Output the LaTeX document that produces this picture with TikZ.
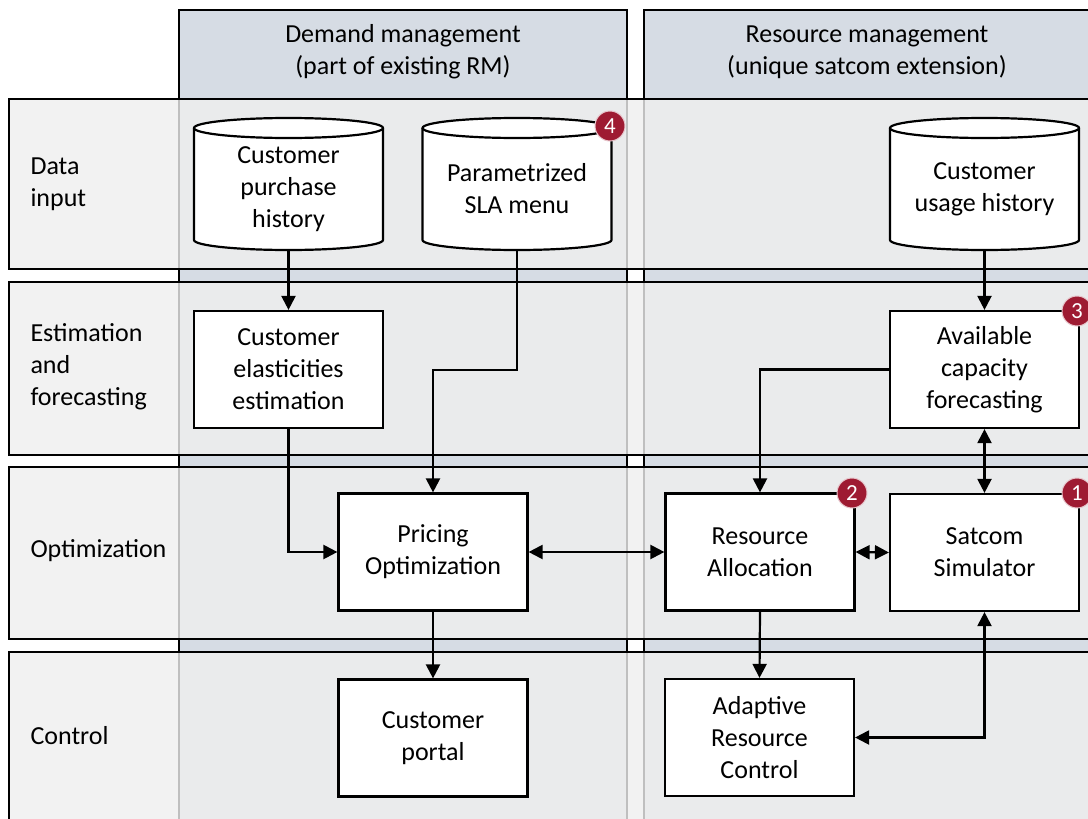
\documentclass[tikz,border=0pt]{standalone}
\usepackage{fontspec}
\setmainfont{Carlito}
\usetikzlibrary{arrows.meta}
\definecolor{hdrfill}{RGB}{214,220,228}
\definecolor{rowfill}{RGB}{239,239,239}
\definecolor{badgered}{RGB}{158,27,50}

% database cylinder: #1 node name, #2 centre x, #3 text
\newcommand\dbstore[3]{%
  \path[dbline] (#2-94.5,128) -- (#2-94.5,240)
    arc[start angle=180,end angle=0,x radius=94.5,y radius=10] -- (#2+94.5,128);
  \path[dbline] (#2,128) ellipse[x radius=94.5,y radius=10];
  \node[dbbody] (#1) at (#2,189) {#3};
}

\begin{document}
\begin{tikzpicture}[x=1pt,y=-1pt,
  every node/.style={font=\fontsize{26}{32}\selectfont},
  colbox/.style={draw=black,line width=2.2pt,fill=hdrfill},
  rowbox/.style={draw=black,line width=2.2pt,fill=rowfill,fill opacity=0.8},
  procbox/.style={draw=black,line width=2.2pt,fill=white,minimum width=189pt,
    minimum height=117pt,align=center,inner sep=2pt},
  dbbody/.style={minimum width=189pt,minimum height=122pt,align=center,inner sep=0pt},
  dbline/.style={draw=black,line width=2.2pt,fill=white},
  conn/.style={line width=2.2pt,-{Triangle[length=14pt,width=14pt]}},
  biconn/.style={line width=2.2pt,{Triangle[length=14pt,width=14pt]}-{Triangle[length=14pt,width=14pt]}},
  badge/.style={circle,fill=badgered,draw=badgered!25!white,line width=1pt,text=white,
    minimum size=30pt,inner sep=0pt,font=\fontsize{23}{23}\selectfont},
  lanelabel/.style={anchor=west,align=left},
  header/.style={align=center}]

\useasboundingbox (0,0) rectangle (1088,819);
\clip (0,0) rectangle (1088,819);

% column lanes with their headers
\path[colbox] (179,10) rectangle (627,830);
\path[colbox] (644,10) rectangle (1092,830);
\node[header] (hdemand) at (403,52) {Demand management\\(part of existing RM)};
\node[header] (hresource) at (867,52) {Resource management\\(unique satcom extension)};

% row lanes
\path[rowbox] (9,99) rectangle (1095,269);
\path[rowbox] (9,282) rectangle (1095,455);
\path[rowbox] (9,467) rectangle (1095,639);
\path[rowbox] (9,652) rectangle (1095,822);

\node[lanelabel] (ldata) at (27,184) {Data\\input};
\node[lanelabel] (lest) at (27,367) {Estimation\\and\\forecasting};
\node[lanelabel] (lopt) at (27,551) {Optimization};
\node[lanelabel] (lctl) at (27,736) {Control};

% data stores
\dbstore{cph}{288.5}{Customer\\purchase\\history}
\dbstore{sla}{517}{Parametrized\\SLA menu}
\dbstore{cuh}{984.5}{Customer\\usage history}

% processing blocks
\node[procbox] (cee) at (288.5,369.5) {Customer\\elasticities\\estimation};
\node[procbox] (acf) at (984.5,369.5) {Available\\capacity\\forecasting};
\node[procbox] (po) at (433,552) {Pricing\\Optimization};
\node[procbox] (ra) at (760,552) {Resource\\Allocation};
\node[procbox] (ss) at (984.5,552.5) {Satcom\\Simulator};
\node[procbox] (cp) at (433,738) {Customer\\portal};
\node[procbox] (arc) at (759.5,737.5) {Adaptive\\Resource\\Control};

% connectors
\draw[conn] (cph.south) -- (cee.north);
\draw[conn] (sla.south) -- ++(0,120) -| (po.north);
\draw[conn] (cee.south) |- (po.west);
\draw[biconn] (po.east) -- (ra.west);
\draw[biconn] (ra.east) -- (ss.west);
\draw[conn] (acf.west) -| (ra.north);
\draw[biconn] (acf.south) -- (ss.north);
\draw[conn] (cuh.south) -- (acf.north);
\draw[conn] (po.south) -- (cp.north);
\draw[conn] (ra.south) -- (arc.north);
\draw[biconn] (ss.south) |- (arc.east);

% numbered markers
\node[badge] (b1) at (1077,493) {1};
\node[badge] (b2) at (852,493) {2};
\node[badge] (b3) at (1077,311) {3};
\node[badge] (b4) at (610,126) {4};
\end{tikzpicture}
\end{document}
